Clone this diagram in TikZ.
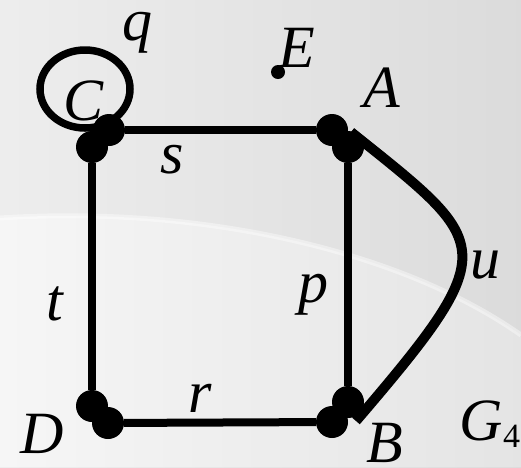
\documentclass[tikz,border=0pt]{standalone}
\usepackage{fontspec}
\setmainfont{Liberation Serif}
\usepackage{tikz}

\tikzset{
  vdot/.style={circle,fill=black,inner sep=0pt,minimum size=32pt},
  edge/.style={line width=8pt},
  lbl/.style={anchor=base,inner sep=0pt,font=\fontsize{60}{60}\selectfont\itshape}
}

\begin{document}
\begin{tikzpicture}[x=1pt,y=-1pt]
    \useasboundingbox (0,0) rectangle (521,467);
    % Background
    \shade[left color=gray!14, right color=gray!28] (0,0) rectangle (521,467);
    \shade[left color=gray!7, right color=gray!21]
      (0,218) .. controls (200,205) and (400,250) .. (521,335) -- (521,467) -- (0,467) -- cycle;
    \draw[line width=5pt,white,opacity=0.4]
      (0,218) .. controls (200,205) and (400,250) .. (521,335);
    % Markers
    \node[vdot] (Cs) at (109,130) {};
    \node[vdot] (Ct) at (92,147) {};
    \node[vdot] (As) at (332,130) {};
    \node[vdot] (Ap) at (348,147) {};
    \node[vdot] (Bp) at (348,402) {};
    \node[vdot] (Br) at (332,422) {};
    \node[vdot] (Dt) at (92,406) {};
    \node[vdot] (Dr) at (108,423) {};
    \node[circle,fill=black,inner sep=0pt,minimum size=14pt] (E) at (278,72) {};
    \coordinate (Au) at (351,132);
    \coordinate (Bu) at (356,421);
    % Edges
    \draw[edge] (Cs) -- (As);
    \draw[edge] (Ct) -- (Dt);
    \draw[edge] (Ap) -- (Bp);
    \draw[edge] (Dr) -- (Br);
    \draw[line width=10pt] (Au) .. controls (492,245) and (505,247) .. (Bu);
    \draw[line width=7.5pt] (85,89) ellipse [x radius=45, y radius=39];
    % Labels
    \node[lbl] (lq) at (137,40) {q};
    \node[lbl] (lC) at (84,120) {C};
    \node[lbl] (ls) at (172,173) {s};
    \node[lbl] (lE) at (297,67) {E};
    \node[lbl] (lA) at (382,107) {A};
    \node[lbl] (lu) at (485,278) {u};
    \node[lbl] (lp) at (313,302) {p};
    \node[lbl] (lt) at (55,320) {t};
    \node[lbl] (lr) at (200,412) {r};
    \node[lbl] (lD) at (42,453) {D};
    \node[lbl] (lB) at (385,462) {B};
    \node[lbl] (lG) at (490,440) {G\raisebox{-7pt}{\upshape\fontsize{34}{34}\selectfont 4}};
  \end{tikzpicture}
\end{document}
